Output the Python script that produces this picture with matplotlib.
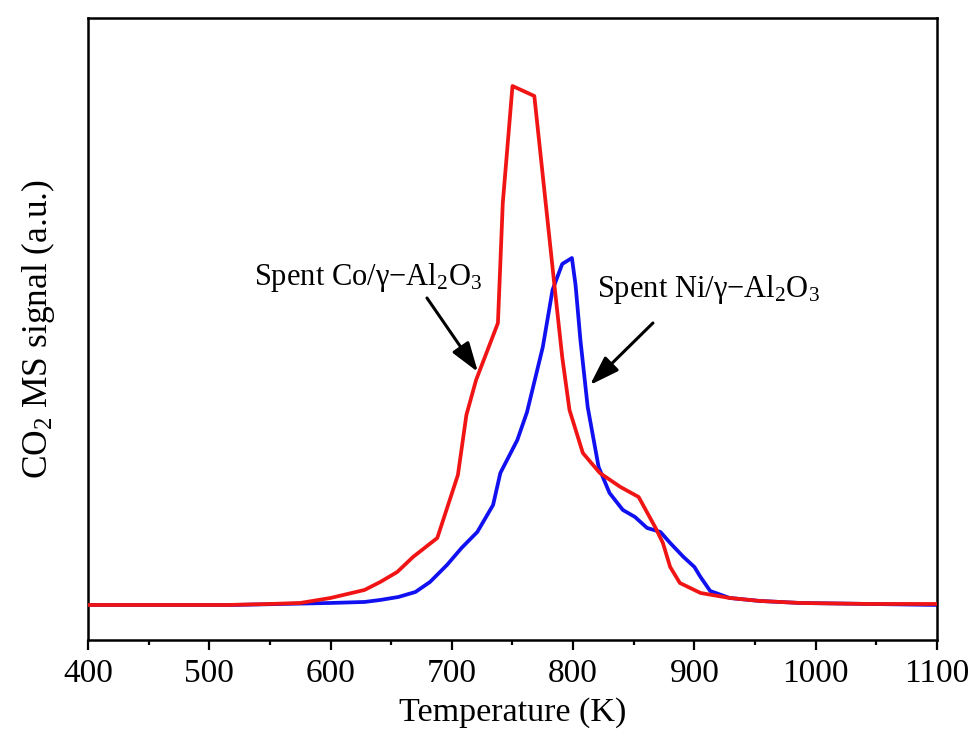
import matplotlib
matplotlib.use("Agg")
import matplotlib.pyplot as plt
from matplotlib.ticker import MultipleLocator, NullLocator

# Spent Co/gamma-Al2O3 (red) and Spent Ni/gamma-Al2O3 (blue), CO2 MS signal in a.u.
co_temp = [400, 515, 550, 575, 600, 628, 641, 655, 668, 688, 705, 712, 720, 738,
           742, 750, 768, 785, 791, 797, 808, 822, 839, 854, 868, 874, 880, 888,
           905, 929, 954, 987, 1045, 1100]
co_signal = [0.0, 0.0, 0.01, 0.02, 0.07, 0.15, 0.23, 0.33, 0.48, 0.67, 1.30, 1.90,
             2.25, 2.82, 4.02, 5.19, 5.09, 3.15, 2.48, 1.95, 1.52, 1.32, 1.18, 1.08,
             0.77, 0.62, 0.38, 0.22, 0.12, 0.07, 0.04, 0.02, 0.01, 0.01]

ni_temp = [400, 520, 600, 628, 641, 656, 670, 682, 696, 708, 721, 734, 740, 754,
           762, 775, 783, 791, 799, 802, 806, 812, 821, 830, 841, 851, 861, 872,
           880, 891, 900, 905, 913, 929, 954, 987, 1045, 1100]
ni_signal = [0.0, 0.0, 0.02, 0.03, 0.05, 0.08, 0.13, 0.23, 0.40, 0.57, 0.73, 1.00,
             1.32, 1.65, 1.93, 2.58, 3.15, 3.41, 3.47, 3.20, 2.65, 1.98, 1.38, 1.12,
             0.95, 0.88, 0.77, 0.73, 0.62, 0.48, 0.38, 0.28, 0.14, 0.07, 0.04, 0.02,
             0.01, 0.0]

plt.rcParams["font.family"] = ["Liberation Serif", "DejaVu Serif"]
plt.rcParams["mathtext.fontset"] = "custom"
plt.rcParams["mathtext.rm"] = "Liberation Serif"
plt.rcParams["mathtext.it"] = "Liberation Serif:italic"

fig = plt.figure(figsize=(9.72, 7.35), dpi=100)
ax = fig.add_axes([0.0905, 0.1293, 0.8735, 0.8462])

ax.plot(ni_temp, ni_signal, color="#1010f0", linewidth=2.7, zorder=2)
ax.plot(co_temp, co_signal, color="#f01414", linewidth=2.7, zorder=3)

# Labels and arrows
arrow = dict(arrowstyle="-|>,head_length=0.9,head_width=0.3", color="black",
             lw=2.2, mutation_scale=20, shrinkA=0, shrinkB=0)
ax.text(631, 3.27, "Spent Co/γ−Al$_2$O$_3$", fontsize=22, ha="center", va="center")
ax.annotate("", xy=(721.5, 2.33), xytext=(679.5, 3.07), arrowprops=arrow)
ax.text(912, 3.15, "Spent Ni/γ−Al$_2$O$_3$", fontsize=22, ha="center", va="center")
ax.annotate("", xy=(813.9, 2.20), xytext=(865.8, 2.82), arrowprops=arrow)

ax.set_xlim(400, 1100)
ax.set_ylim(-0.35, 5.87)
ax.xaxis.set_major_locator(MultipleLocator(100))
ax.xaxis.set_minor_locator(MultipleLocator(50))
ax.yaxis.set_major_locator(NullLocator())
ax.tick_params(axis="x", which="major", direction="out", length=7, width=1.6,
               labelsize=24, pad=6)
ax.tick_params(axis="x", which="minor", direction="out", length=3.5, width=1.6)
for spine in ax.spines.values():
    spine.set_linewidth(1.8)

ax.set_xlabel("Temperature (K)", fontsize=24.5, labelpad=6)
ax.set_ylabel("CO$_2$ MS signal (a.u.)", fontsize=25.5, labelpad=22)

fig.savefig("out.png", dpi=100)
